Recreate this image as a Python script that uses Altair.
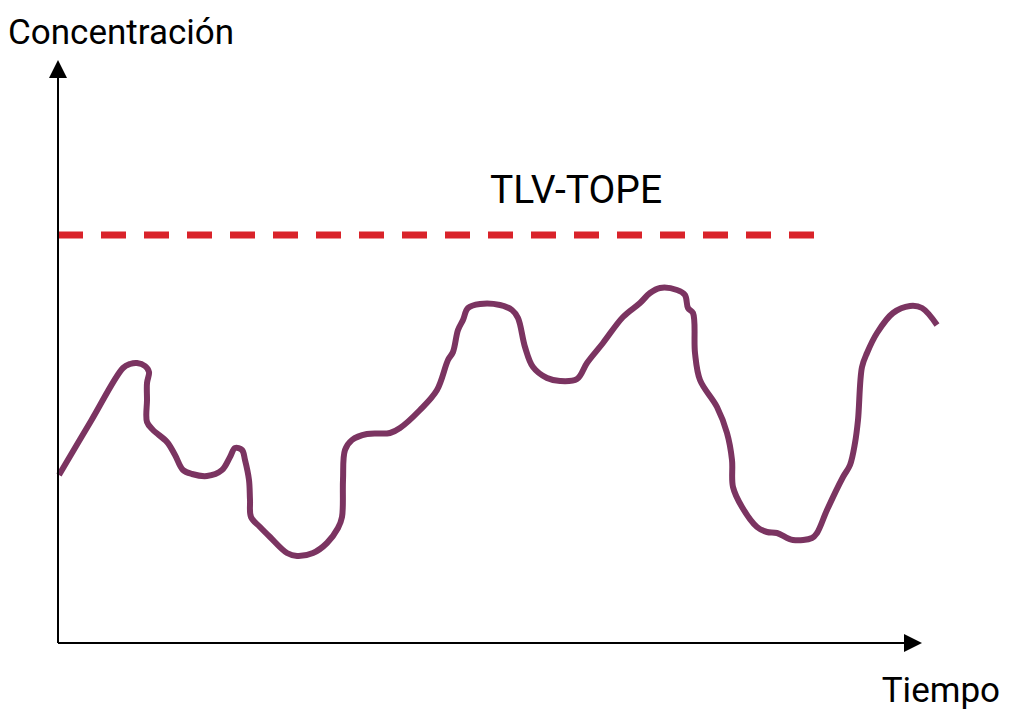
import altair as alt
import pandas as pd

# Curve: time (t) and concentration (c)
t = [1, 33, 65, 72, 79, 87, 91, 89, 89, 89, 95,
     109, 117, 125, 134, 149, 164, 172, 177, 184, 187,
     191, 192, 193, 202, 212, 229, 239, 255, 269, 280,
     284, 285, 287, 294, 309, 332, 342, 362, 379, 390,
     395, 400, 405, 410, 422, 442, 454, 460, 467, 475,
     489, 502, 519, 529, 545, 565, 582, 592, 602, 619,
     627, 630, 635, 637, 642, 659, 669, 674, 675, 684,
     699, 709, 719, 735, 754, 759, 769, 785, 792, 797,
     800, 804, 809, 819, 835, 852, 864, 879]
c = [168, 222, 275, 279, 280, 277, 271, 260, 243, 221, 213,
     201, 188, 173, 169, 167, 173, 186, 195, 193, 183,
     163, 143, 126, 116, 106, 90, 87, 90, 100, 115,
     126, 163, 193, 203, 209, 210, 215, 233, 253, 283,
     291, 313, 323, 335, 339, 338, 333, 325, 296, 276,
     265, 262, 264, 280, 300, 326, 340, 350, 355, 353,
     348, 335, 330, 290, 263, 236, 210, 183, 156, 136,
     116, 111, 110, 103, 105, 110, 133, 166, 178, 200,
     223, 276, 290, 310, 330, 337, 335, 318]

tlv_level = 408
tlv_end = 757
x_axis_end = 850
y_axis_end = 570
labels = ["Concentración", "TLV-TOPE", "Tiempo"]

XD = [-50, 958]
YD = [-67, 635]

def xs(field, **kw):
    return alt.X(field, type="quantitative", scale=alt.Scale(domain=XD, nice=False, zero=False), axis=None, **kw)

def ys(field, **kw):
    return alt.Y(field, type="quantitative", scale=alt.Scale(domain=YD, nice=False, zero=False), axis=None, **kw)

curve_df = pd.DataFrame({"t": t, "c": c, "i": list(range(len(t)))})

curve = alt.Chart(curve_df).mark_line(
    color="#7b3461", strokeWidth=6, interpolate="catmull-rom", strokeJoin="round", strokeCap="butt"
).encode(x=xs("t"), y=ys("c"), order="i:Q")

tlv_df = pd.DataFrame({"t": [0], "t2": [tlv_end], "c": [tlv_level]})
tlv = alt.Chart(tlv_df).mark_rule(
    color="#d9232a", strokeWidth=7, strokeDash=[25, 18]
).encode(x=xs("t"), x2="t2", y=ys("c"))

yaxis_df = pd.DataFrame({"t": [0], "c": [0], "c2": [y_axis_end]})
yaxis = alt.Chart(yaxis_df).mark_rule(color="black", strokeWidth=2).encode(
    x=xs("t"), y=ys("c"), y2="c2")

xaxis_df = pd.DataFrame({"t": [0], "t2": [x_axis_end], "c": [0]})
xaxis = alt.Chart(xaxis_df).mark_rule(color="black", strokeWidth=2).encode(
    x=xs("t"), x2="t2", y=ys("c"))

up_df = pd.DataFrame({"t": [0], "c": [574]})
arrow_up = alt.Chart(up_df).mark_point(
    shape="M0,-1L-1,1L1,1Z", size=324, filled=True, color="black", opacity=1
).encode(x=xs("t"), y=ys("c"))

right_df = pd.DataFrame({"t": [855], "c": [0]})
arrow_right = alt.Chart(right_df).mark_point(
    shape="M1,0L-1,-1L-1,1Z", size=324, filled=True, color="black", opacity=1
).encode(x=xs("t"), y=ys("c"))

t1 = alt.Chart(pd.DataFrame({"t": [-50], "c": [599], "label": [labels[0]]})).mark_text(
    font="Roboto", fontSize=35, align="left", baseline="alphabetic", color="black"
).encode(x=xs("t"), y=ys("c"), text="label")

t2 = alt.Chart(pd.DataFrame({"t": [518], "c": [440], "label": [labels[1]]})).mark_text(
    font="Roboto", fontSize=39, align="center", baseline="alphabetic", color="black"
).encode(x=xs("t"), y=ys("c"), text="label")

t3 = alt.Chart(pd.DataFrame({"t": [942], "c": [-59], "label": [labels[2]]})).mark_text(
    font="Roboto", fontSize=35, align="right", baseline="alphabetic", color="black"
).encode(x=xs("t"), y=ys("c"), text="label")

chart = alt.layer(tlv, curve, yaxis, xaxis, arrow_up, arrow_right, t1, t2, t3).properties(
    width=1008, height=702, padding=0, autosize=alt.AutoSizeParams(type="none"), background="white"
).configure_view(stroke=None)

chart.save("out.html", embed_options={"renderer": "svg", "actions": False})
